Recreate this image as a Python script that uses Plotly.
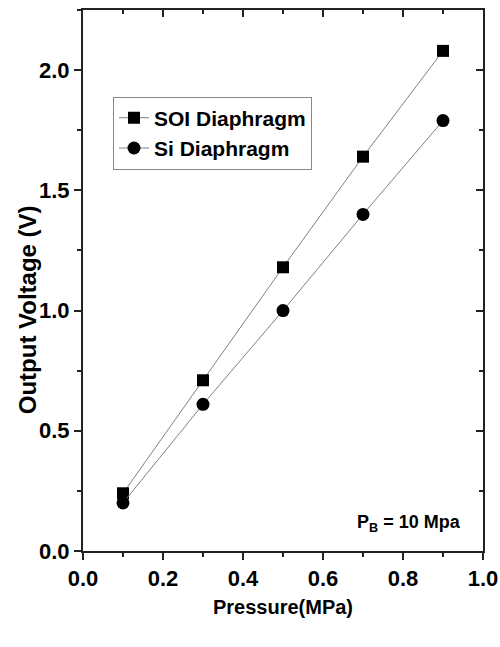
import plotly.graph_objects as go

pressure = [0.1, 0.3, 0.5, 0.7, 0.9]
soi_voltage = [0.24, 0.71, 1.18, 1.64, 2.08]
si_voltage = [0.20, 0.61, 1.00, 1.40, 1.79]
series_names = ["SOI Diaphragm", "Si Diaphragm"]

FONT = "Liberation Sans, Arial"

fig = go.Figure()
fig.add_trace(go.Scatter(x=pressure, y=soi_voltage, mode="lines+markers", name=series_names[0],
                         line=dict(color="#808080", width=1),
                         marker=dict(symbol="square", size=12, color="black")))
fig.add_trace(go.Scatter(x=pressure, y=si_voltage, mode="lines+markers", name=series_names[1],
                         line=dict(color="#808080", width=1),
                         marker=dict(symbol="circle", size=13, color="black")))
# invisible trace on mirror axes
fig.add_trace(go.Scatter(x=[0.5], y=[1.0], xaxis="x2", yaxis="y2", mode="markers",
                         marker=dict(opacity=0), showlegend=False, hoverinfo="skip"))

tickfont = dict(family=FONT, size=22, color="black", weight="bold")
common = dict(showline=True, linecolor="#222", linewidth=2, showgrid=False, zeroline=False,
              ticklen=7, tickwidth=2, tickcolor="#222")

fig.update_layout(
    width=500, height=647,
    margin=dict(l=83, r=17, t=10, b=96, autoexpand=False),
    plot_bgcolor="white", paper_bgcolor="white",
    xaxis=dict(range=[0, 1.0], dtick=0.2, tickformat=".1f", ticks="outside",
               minor=dict(dtick=0.1, ticks="outside", ticklen=4, tickcolor="#222", tickwidth=2),
               tickfont=tickfont,
               title=dict(text="Pressure(MPa)", font=dict(family=FONT, size=20, color="black", weight="bold"),
                          standoff=10),
               **common),
    yaxis=dict(range=[0, 2.25], dtick=0.5, tickformat=".1f", ticks="outside",
               minor=dict(dtick=0.25, ticks="outside", ticklen=4, tickcolor="#222", tickwidth=2),
               tickfont=tickfont,
               **common),
    xaxis2=dict(range=[0, 1.0], dtick=0.2, overlaying="x", side="top", ticks="inside",
                showticklabels=False,
                minor=dict(dtick=0.1, ticks="inside", ticklen=4, tickcolor="#222", tickwidth=2),
                anchor="y", **common),
    yaxis2=dict(range=[0, 2.25], dtick=0.5, overlaying="y", side="right", ticks="inside",
                showticklabels=False,
                minor=dict(dtick=0.25, ticks="inside", ticklen=4, tickcolor="#222", tickwidth=2),
                anchor="x", **common),
    legend=dict(x=0.075, y=0.84, xanchor="left", yanchor="top",
                bordercolor="#888", borderwidth=1, bgcolor="white",
                font=dict(family=FONT, size=21, color="black", weight="bold"),
                tracegroupgap=6, itemwidth=30),
    showlegend=True,
)

fig.add_annotation(x=-0.14, y=0.445, xref="paper", yref="paper", xanchor="center", yanchor="middle",
                   text="Output Voltage (V)", textangle=-90, showarrow=False,
                   font=dict(family=FONT, size=24, color="black", weight="bold"))

fig.add_annotation(x=0.95, y=0.025, xref="paper", yref="paper", xanchor="right", yanchor="bottom",
                   text="P<sub>B</sub> = 10 Mpa", showarrow=False,
                   font=dict(family=FONT, size=18, color="black", weight="bold"))

fig.write_html("out.html")
